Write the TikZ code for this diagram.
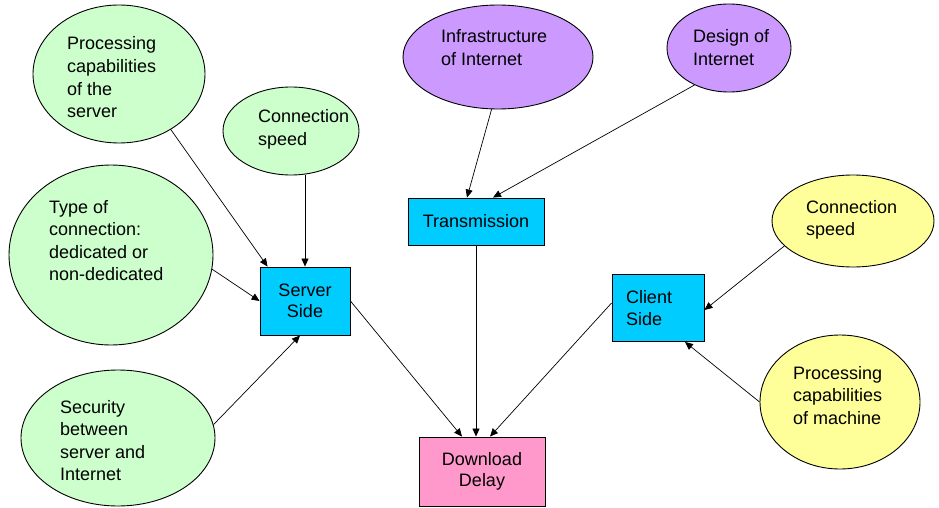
\documentclass[tikz,border=0pt]{standalone}
\usepackage{fontspec}
\setmainfont{Liberation Sans}
\usetikzlibrary{shapes.geometric,arrows.meta,calc}
\definecolor{gfill}{HTML}{CCFFCC}
\definecolor{pfill}{HTML}{CC99FF}
\definecolor{yfill}{HTML}{FFFF99}
\definecolor{bfill}{HTML}{00CCFF}
\definecolor{dfill}{HTML}{FF99CC}
\begin{document}
\begin{tikzpicture}[x=1pt,y=-1pt,
  font=\fontsize{18}{22.5}\selectfont,
  ell/.style={ellipse,draw=black,line width=0.9pt,inner sep=0pt},
  gell/.style={ell,fill=gfill},
  pell/.style={ell,fill=pfill},
  yell/.style={ell,fill=yfill},
  txt/.style={anchor=base west,align=left,inner sep=0pt},
  box/.style={rectangle,draw=black,line width=0.9pt,inner sep=0pt,align=center},
  arr/.style={-{Triangle[length=8pt,width=7pt]},line width=0.7pt}
]
\useasboundingbox[fill=white] (0,0) rectangle (939,508);

% green ellipses (server side factors)
\node[gell,minimum width=172pt,minimum height=138pt] (ps) at (119,74) {};
\node[txt] (pst) at (67,117.5) {Processing\\capabilities\\of the\\server};
\node[gell,minimum width=136pt,minimum height=88pt] (cs) at (291,131) {};
\node[txt] (cst) at (258,145.5) {Connection\\speed};
\node[gell,minimum width=204pt,minimum height=180pt] (ty) at (111,255) {};
\node[txt] (tyt) at (49,280.5) {Type of\\connection:\\dedicated or\\non-dedicated};
\node[gell,minimum width=194pt,minimum height=136pt] (se) at (118,438) {};
\node[txt] (set) at (60,480.5) {Security\\between\\server and\\Internet};

% purple ellipses
\node[pell,minimum width=190pt,minimum height=104pt] (in) at (498,57) {};
\node[txt] (int) at (441,65.5) {Infrastructure\\of Internet};
\node[pell,minimum width=124pt,minimum height=88pt] (de) at (729,48) {};
\node[txt] (det) at (693,65.5) {Design of\\Internet};

% yellow ellipses
\node[yell,minimum width=162pt,minimum height=92pt] (yc) at (853,221) {};
\node[txt] (yct) at (806,235.5) {Connection\\speed};
\node[yell,minimum width=160pt,minimum height=134pt] (yp) at (840,402) {};
\node[txt] (ypt) at (793,424) {Processing\\capabilities\\of machine};

% boxes
\node[box,fill=bfill,minimum width=90pt,minimum height=68pt,font=\fontsize{18}{21}\selectfont] (ss) at (305,301) {Server\\Side};
\node[box,fill=bfill,minimum width=136pt,minimum height=47pt] (tr) at (476,221.5) {Transmission};
\node[box,fill=bfill,minimum width=92pt,minimum height=67pt,text width=64pt,align=left,font=\fontsize{18}{22}\selectfont] (cl) at (658,308) {Client\\Side};
\node[box,fill=dfill,minimum width=126pt,minimum height=69pt,font=\fontsize{18}{21}\selectfont] (dd) at (482,471.5) {Download\\Delay};

% connectors
\draw[arr] (ps.-47) -- ($(ss.north west)+(8,0)$);
\draw[arr] (ss.north |- cs.south) -- (ss.north);
\draw[arr] (ty.-8) -- (ss.west);
\draw[arr] (se.8) -- ($(ss.south)+(-5,0)$);
\draw[arr] (in.-97) -- ($(tr.north)+(-9,0)$);
\draw[arr] (de.-133) -- ($(tr.north)+(17,0)$);
\draw[arr] (tr.south) -- (tr.south |- dd.north);
\draw[arr] (ss.east) -- ($(dd.north)+(-20,0)$);
\draw[arr] ($(cl.west)+(0,-5)$) -- ($(dd.north)+(8,0)$);
\draw[arr] (yc.-160) -- ($(cl.east)+(0,2)$);
\draw[arr] (yp.west) -- ($(cl.south)+(27,0)$);
\end{tikzpicture}
\end{document}
